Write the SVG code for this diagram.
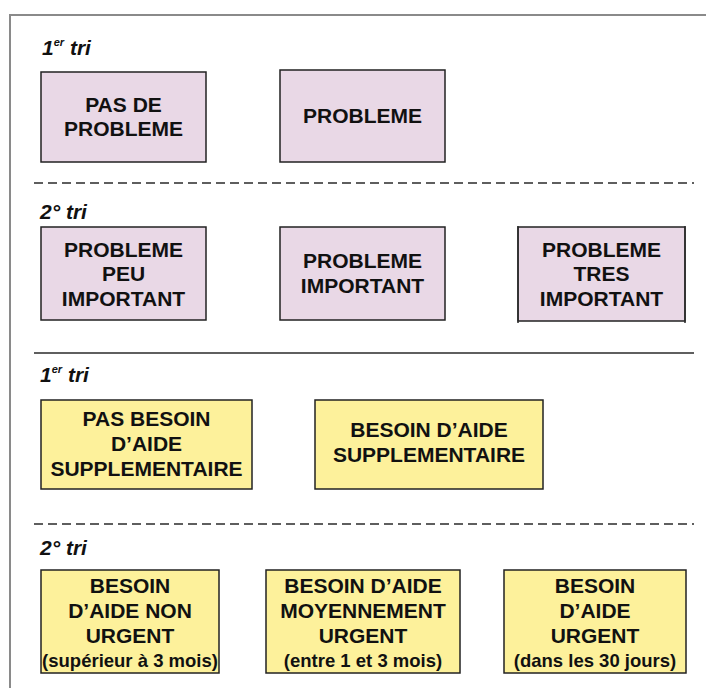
<svg xmlns="http://www.w3.org/2000/svg" width="706" height="688" viewBox="0 0 706 688">
<style>
.frame{fill:none;stroke:#8a8a8a;stroke-width:2}
.sep{stroke:#2a2a2a;stroke-width:1.5;fill:none}
.dash{stroke-dasharray:9 5}
.pink{fill:#e9d8e6;stroke:#222;stroke-width:1.5}
.yel{fill:#fdf19b;stroke:#222;stroke-width:1.5}
text{font-family:"Liberation Sans",Arial,Helvetica,sans-serif;font-weight:bold;fill:#111}
.t{font-size:21px;text-anchor:middle}
.s{font-size:18.5px;text-anchor:middle}
.lab{font-size:21px;font-style:italic}
.sup{font-size:11px}
</style>
<rect width="706" height="688" fill="#ffffff"/>
<path class="frame" d="M10,688 V15 H706"/>
<g id="separators">
<line class="sep dash" x1="34" y1="183" x2="694" y2="183"/>
<line class="sep" x1="34" y1="353" x2="694" y2="353"/>
<line class="sep dash" x1="34" y1="524" x2="694" y2="524"/>
</g>
<g id="labels">
<text class="lab" x="42" y="55">1<tspan class="sup" dy="-9">er</tspan><tspan dy="9"> tri</tspan></text>
<text class="lab" x="40" y="219">2° tri</text>
<text class="lab" x="40" y="382">1<tspan class="sup" dy="-9">er</tspan><tspan dy="9"> tri</tspan></text>
<text class="lab" x="40" y="555">2° tri</text>
</g>
<g id="connectors"></g>
<g id="n1">
<rect class="pink" x="41" y="72" width="165" height="90"/>
<text class="t" x="123.5" y="112">PAS DE</text>
<text class="t" x="123.5" y="136">PROBLEME</text>
</g>
<g id="n2">
<rect class="pink" x="280" y="70" width="165" height="92"/>
<text class="t" x="362.5" y="123">PROBLEME</text>
</g>
<g id="n3">
<rect class="pink" x="41" y="227" width="165" height="93"/>
<text class="t" x="123.5" y="257">PROBLEME</text>
<text class="t" x="123.5" y="281">PEU</text>
<text class="t" x="123.5" y="306">IMPORTANT</text>
</g>
<g id="n4">
<rect class="pink" x="280" y="227" width="165" height="93"/>
<text class="t" x="362.5" y="268">PROBLEME</text>
<text class="t" x="362.5" y="293">IMPORTANT</text>
</g>
<g id="n5">
<rect class="pink" x="518" y="227" width="167" height="94"/>
<line class="sep" x1="518" y1="226" x2="518" y2="323"/>
<line class="sep" x1="685" y1="226" x2="685" y2="323"/>
<text class="t" x="601.5" y="257">PROBLEME</text>
<text class="t" x="601.5" y="281">TRES</text>
<text class="t" x="601.5" y="306">IMPORTANT</text>
</g>
<g id="n6">
<rect class="yel" x="41" y="400" width="211" height="89"/>
<text class="t" x="146.5" y="426">PAS BESOIN</text>
<text class="t" x="146.5" y="451">D’AIDE</text>
<text class="t" x="146.5" y="476">SUPPLEMENTAIRE</text>
</g>
<g id="n7">
<rect class="yel" x="315" y="400" width="228" height="89"/>
<text class="t" x="429" y="437">BESOIN D’AIDE</text>
<text class="t" x="429" y="462">SUPPLEMENTAIRE</text>
</g>
<g id="n8">
<rect class="yel" x="41" y="570" width="178" height="103"/>
<text class="t" x="130" y="593">BESOIN</text>
<text class="t" x="130" y="618">D’AIDE NON</text>
<text class="t" x="130" y="643">URGENT</text>
<text class="s" x="130" y="667">(supérieur à 3 mois)</text>
</g>
<g id="n9">
<rect class="yel" x="266" y="570" width="194" height="103"/>
<text class="t" x="363" y="593">BESOIN D’AIDE</text>
<text class="t" x="363" y="618">MOYENNEMENT</text>
<text class="t" x="363" y="643">URGENT</text>
<text class="s" x="363" y="667">(entre 1 et 3 mois)</text>
</g>
<g id="n10">
<rect class="yel" x="504" y="570" width="182" height="103"/>
<text class="t" x="595" y="593">BESOIN</text>
<text class="t" x="595" y="618">D’AIDE</text>
<text class="t" x="595" y="643">URGENT</text>
<text class="s" x="595" y="667">(dans les 30 jours)</text>
</g>
</svg>
